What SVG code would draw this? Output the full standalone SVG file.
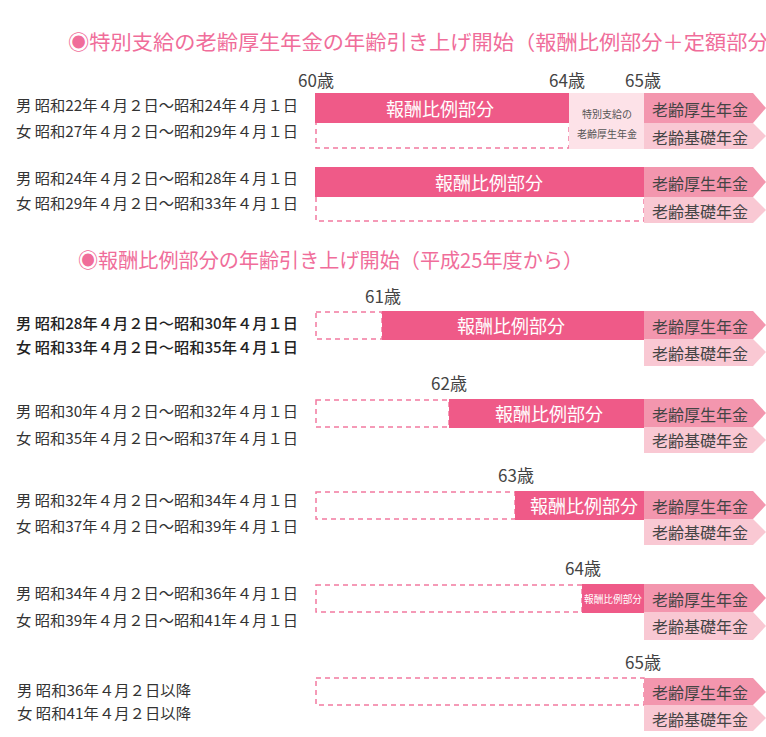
<svg xmlns="http://www.w3.org/2000/svg" width="766" height="737" viewBox="0 0 766 737">
<style>
text{font-family:"Noto Sans CJK JP","Noto Sans",sans-serif;}
.title{font-size:20px;fill:#f06d9a;}
.lbl{font-size:15px;fill:#333;}
.lblb{font-size:15px;fill:#222;font-weight:500;}
.age{font-size:17px;fill:#444;text-anchor:middle;}
.bar{fill:#ef5a88;}
.bartxt{font-size:18px;fill:#fff;text-anchor:middle;dominant-baseline:central;}
.kosei{fill:#f396ae;}
.kiso{fill:#f9c8d3;}
.atxt{font-size:16px;fill:#444;text-anchor:middle;dominant-baseline:central;}
.dash{fill:none;stroke:#f27aa0;stroke-width:1.5;stroke-dasharray:5 4;}
.light{fill:#fde2e8;}
.small{font-size:10px;fill:#555;text-anchor:middle;}
</style>

<g id="title1"><text class="title" x="68" y="50" textLength="722" lengthAdjust="spacingAndGlyphs">◉特別支給の老齢厚生年金の年齢引き上げ開始（報酬比例部分＋定額部分）</text></g>

<g id="block1">
<text class="lbl" x="16" y="111" textLength="282" lengthAdjust="spacingAndGlyphs">男 昭和22年４月２日～昭和24年４月１日</text>
<text class="lbl" x="16" y="137" textLength="282" lengthAdjust="spacingAndGlyphs">女 昭和27年４月２日～昭和29年４月１日</text>
<text class="age" x="316" y="87">60歳</text>
<text class="age" x="567" y="87">64歳</text>
<text class="age" x="643" y="87">65歳</text>
<rect class="dash" x="316" y="110" width="253" height="38"/>
<rect class="bar" x="315" y="93" width="254" height="30"/>
<text class="bartxt" x="440" y="108">報酬比例部分</text>
<rect class="light" x="569" y="93" width="75" height="56"/>
<text class="small" x="607" y="118">特別支給の</text>
<text class="small" x="607" y="138">老齢厚生年金</text>
<path class="kosei" d="M644,93 H753 L766,108 L753,123 H644 Z"/>
<text class="atxt" x="700" y="109">老齢厚生年金</text>
<path class="kiso" d="M644,123 H753 L766,136 L753,149 H644 Z"/>
<text class="atxt" x="700" y="137">老齢基礎年金</text>
</g>

<g id="block2">
<text class="lbl" x="16" y="184" textLength="282" lengthAdjust="spacingAndGlyphs">男 昭和24年４月２日～昭和28年４月１日</text>
<text class="lbl" x="16" y="209" textLength="282" lengthAdjust="spacingAndGlyphs">女 昭和29年４月２日～昭和33年４月１日</text>
<rect class="dash" x="316" y="185" width="328" height="36"/>
<rect class="bar" x="315" y="167" width="329" height="30"/>
<text class="bartxt" x="489" y="182">報酬比例部分</text>
<path class="kosei" d="M644,167 H753 L766,182 L753,197 H644 Z"/>
<text class="atxt" x="700" y="183">老齢厚生年金</text>
<path class="kiso" d="M644,197 H753 L766,210 L753,223 H644 Z"/>
<text class="atxt" x="700" y="211">老齢基礎年金</text>
</g>

<g id="title2"><text class="title" x="78" y="268" textLength="505" lengthAdjust="spacingAndGlyphs">◉報酬比例部分の年齢引き上げ開始（平成25年度から）</text></g>

<g id="block3">
<text class="lblb" x="16" y="329" textLength="282" lengthAdjust="spacingAndGlyphs">男 昭和28年４月２日～昭和30年４月１日</text>
<text class="lblb" x="16" y="353" textLength="282" lengthAdjust="spacingAndGlyphs">女 昭和33年４月２日～昭和35年４月１日</text>
<text class="age" x="383" y="303">61歳</text>
<rect class="dash" x="316" y="312" width="66" height="27"/>
<rect class="bar" x="382" y="311" width="262" height="29"/>
<text class="bartxt" x="511" y="325">報酬比例部分</text>
<path class="kosei" d="M644,311 H753 L766,325 L753,339 H644 Z"/>
<text class="atxt" x="700" y="326">老齢厚生年金</text>
<path class="kiso" d="M644,339 H753 L766,352 L753,366 H644 Z"/>
<text class="atxt" x="700" y="353">老齢基礎年金</text>
</g>

<g id="block4">
<text class="lbl" x="16" y="417" textLength="282" lengthAdjust="spacingAndGlyphs">男 昭和30年４月２日～昭和32年４月１日</text>
<text class="lbl" x="16" y="444" textLength="282" lengthAdjust="spacingAndGlyphs">女 昭和35年４月２日～昭和37年４月１日</text>
<text class="age" x="449" y="390">62歳</text>
<rect class="dash" x="316" y="400" width="133" height="27"/>
<rect class="bar" x="449" y="399" width="195" height="29"/>
<text class="bartxt" x="549" y="413">報酬比例部分</text>
<path class="kosei" d="M644,399 H753 L766,413 L753,427 H644 Z"/>
<text class="atxt" x="700" y="414">老齢厚生年金</text>
<path class="kiso" d="M644,427 H753 L766,440 L753,453 H644 Z"/>
<text class="atxt" x="700" y="440">老齢基礎年金</text>
</g>

<g id="block5">
<text class="lbl" x="16" y="506" textLength="282" lengthAdjust="spacingAndGlyphs">男 昭和32年４月２日～昭和34年４月１日</text>
<text class="lbl" x="16" y="532" textLength="282" lengthAdjust="spacingAndGlyphs">女 昭和37年４月２日～昭和39年４月１日</text>
<text class="age" x="516" y="482">63歳</text>
<rect class="dash" x="316" y="492" width="199" height="27"/>
<rect class="bar" x="515" y="491" width="129" height="29"/>
<text class="bartxt" x="584" y="505">報酬比例部分</text>
<path class="kosei" d="M644,491 H753 L766,505 L753,519 H644 Z"/>
<text class="atxt" x="700" y="506">老齢厚生年金</text>
<path class="kiso" d="M644,519 H753 L766,532 L753,545 H644 Z"/>
<text class="atxt" x="700" y="532">老齢基礎年金</text>
</g>

<g id="block6">
<text class="lbl" x="16" y="599" textLength="282" lengthAdjust="spacingAndGlyphs">男 昭和34年４月２日～昭和36年４月１日</text>
<text class="lbl" x="16" y="626" textLength="282" lengthAdjust="spacingAndGlyphs">女 昭和39年４月２日～昭和41年４月１日</text>
<text class="age" x="583" y="575">64歳</text>
<rect class="dash" x="316" y="585" width="266" height="27"/>
<rect class="bar" x="582" y="584" width="62" height="29"/>
<text class="bartxt" x="613" y="598" style="font-size:10.5px" textLength="58" lengthAdjust="spacingAndGlyphs">報酬比例部分</text>
<path class="kosei" d="M644,584 H753 L766,598 L753,612 H644 Z"/>
<text class="atxt" x="700" y="599">老齢厚生年金</text>
<path class="kiso" d="M644,612 H753 L766,626 L753,640 H644 Z"/>
<text class="atxt" x="700" y="626">老齢基礎年金</text>
</g>

<g id="block7">
<text class="lbl" x="17" y="696" textLength="174" lengthAdjust="spacingAndGlyphs">男 昭和36年４月２日以降</text>
<text class="lbl" x="17" y="719" textLength="174" lengthAdjust="spacingAndGlyphs">女 昭和41年４月２日以降</text>
<text class="age" x="643" y="669">65歳</text>
<rect class="dash" x="316" y="678" width="328" height="27"/>
<path class="kosei" d="M644,678 H753 L766,692 L753,705 H644 Z"/>
<text class="atxt" x="700" y="692">老齢厚生年金</text>
<path class="kiso" d="M644,705 H753 L766,718 L753,731 H644 Z"/>
<text class="atxt" x="700" y="719">老齢基礎年金</text>
</g>

<g id="connectors"></g>
</svg>
